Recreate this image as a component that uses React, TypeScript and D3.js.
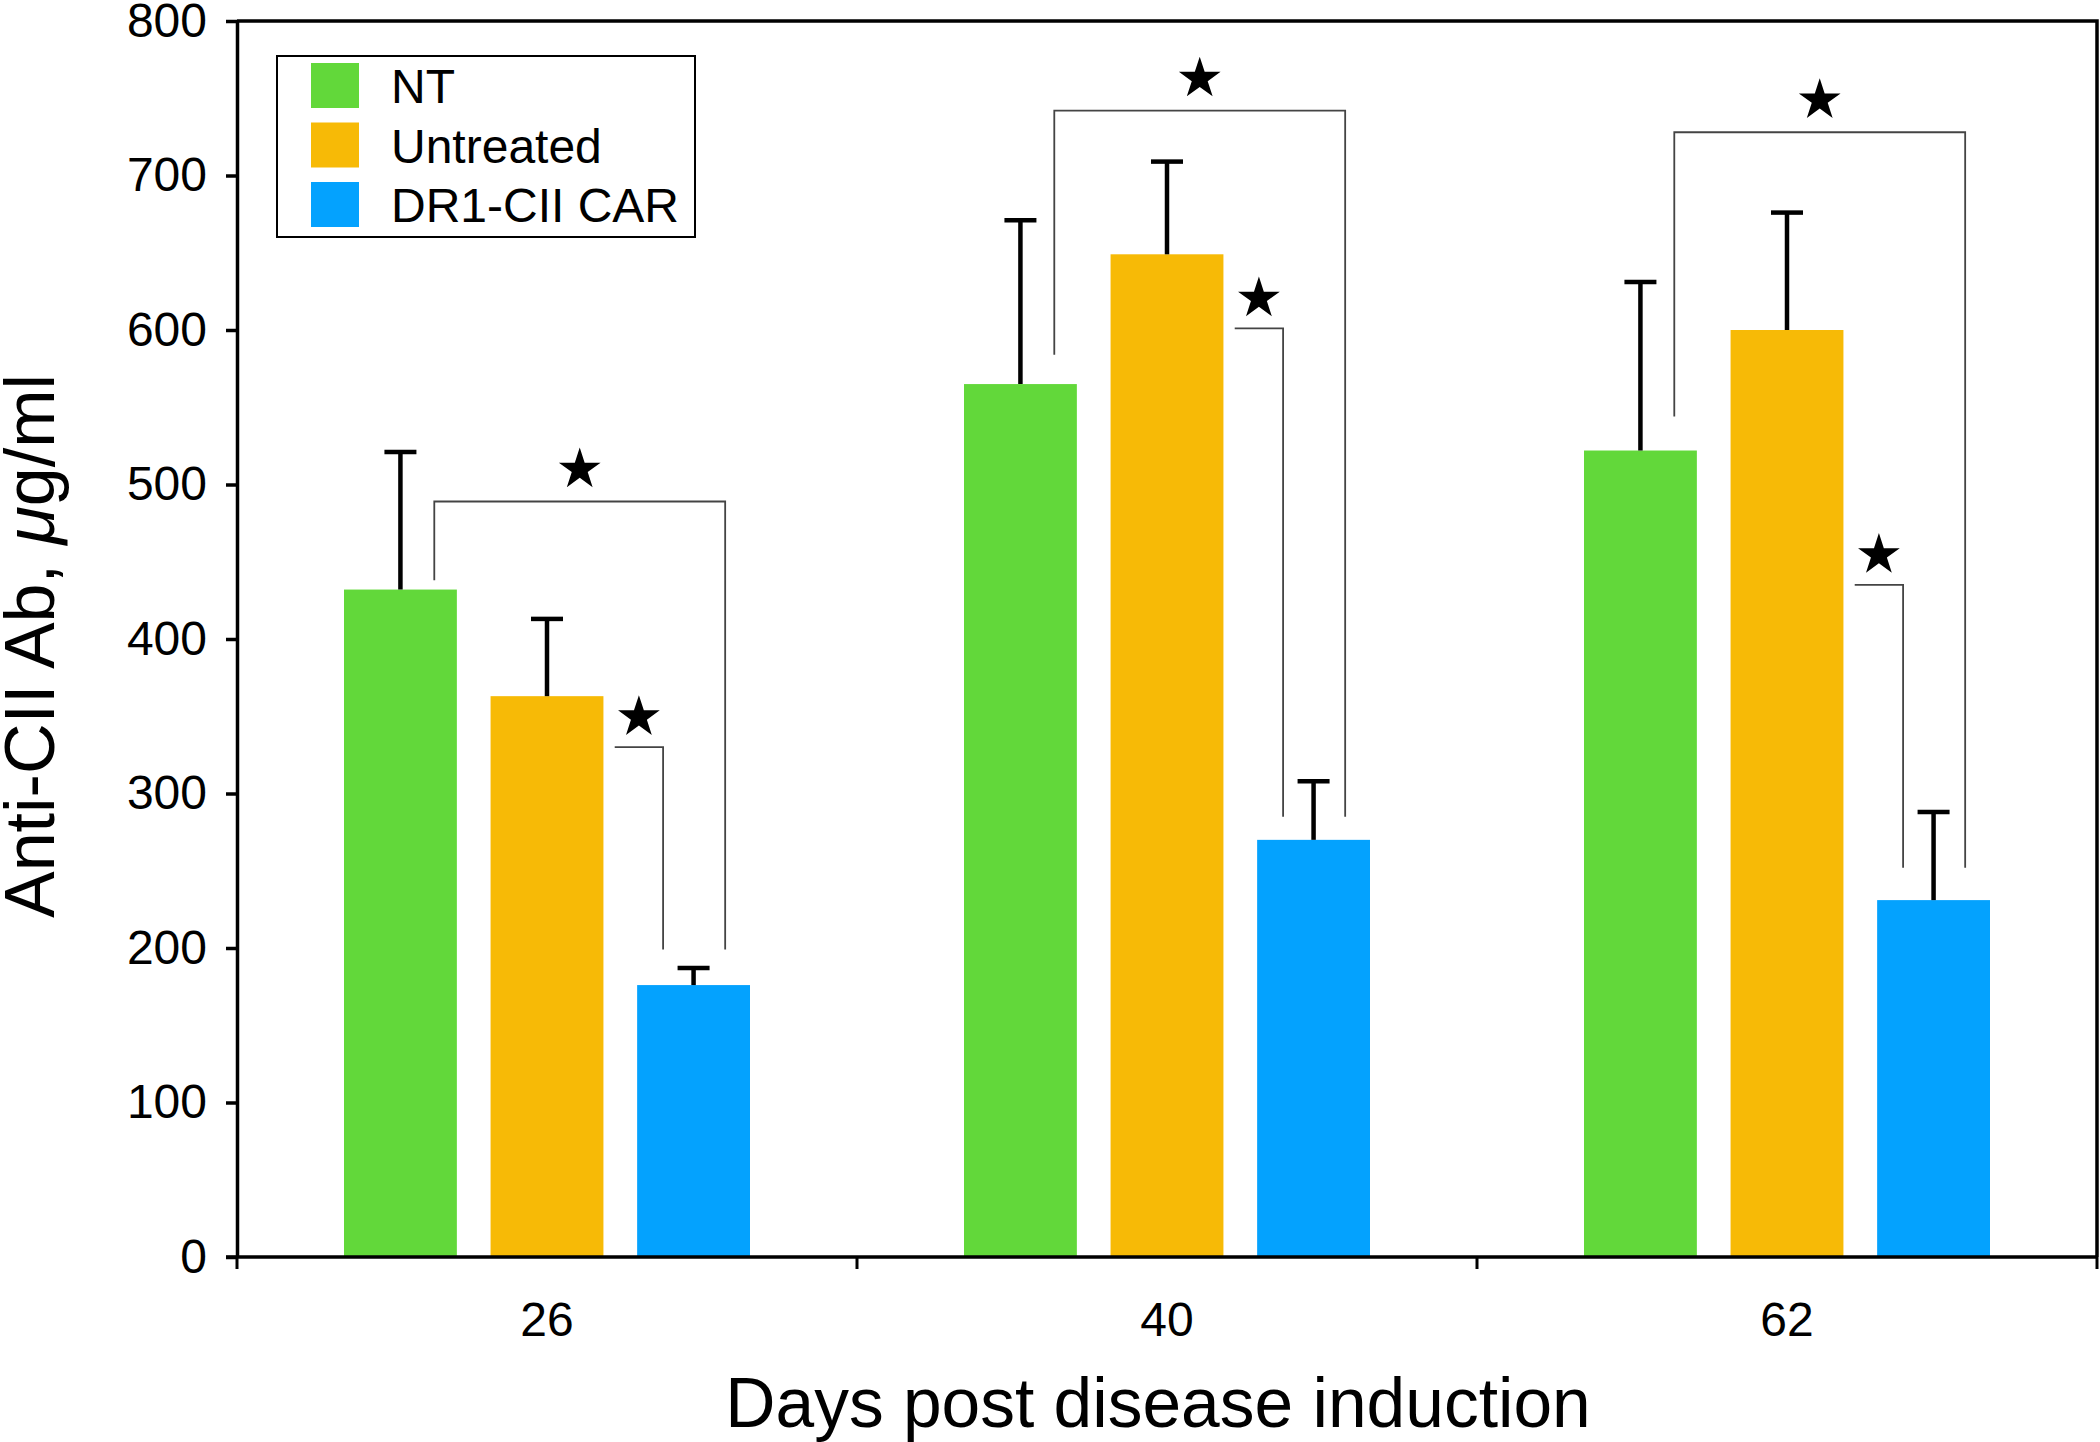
import * as d3 from "d3"
import { useEffect, useRef } from "react"

const days = ["26", "40", "62"]
const groups = ["NT", "Untreated", "DR1-CII CAR"]
const groupColors = ["#62d83a", "#f7ba06", "#04a2fe"]

const ntMeans = [432, 565, 522]
const ntErrors = [89, 106, 109]
const untreatedMeans = [363, 649, 600]
const untreatedErrors = [50, 60, 76]
const carMeans = [176, 270, 231]
const carErrors = [11, 38, 57]

const yTicks = [0, 100, 200, 300, 400, 500, 600, 700, 800]

// significance brackets, heights in ug/ml
const ntVsCarTop = [489, 742, 728]
const ntVsCarLeftEnd = [438, 584, 544]
const untVsCarTop = [330, 601, 435]
const bracketBottom = [199, 285, 252]

export default function App() {
    const svgRef = useRef<SVGSVGElement>(null)

    useEffect(() => {
        const width = 2100
        const height = 1442
        const left = 237
        const right = 2097
        const top = 21
        const bottom = 1257
        const font = "'Liberation Sans', Arial, Helvetica, sans-serif"

        const means = [ntMeans, untreatedMeans, carMeans]
        const errors = [ntErrors, untreatedErrors, carErrors]
        const rows = days.flatMap((day, i) => groups.map((g, j) => ({
            day, group: g, color: groupColors[j], mean: means[j][i], err: errors[j][i]
        })))

        const x0 = d3.scaleBand(days, [left, right])
        const bw0 = x0.bandwidth()
        const x1 = d3.scaleBand(groups, [bw0 / 2 - 203, bw0 / 2 + 203]).paddingInner(0.23)
        const bw = x1.bandwidth()
        const y = d3.scaleLinear([0, 800], [bottom, top])

        if (svgRef.current !== null) {
            svgRef.current.innerHTML = ""
        }

        const svg = d3.select(svgRef.current)
            .attr("width", width)
            .attr("height", height)
            .attr("viewBox", [0, 0, width, height])
            .style("font-family", font)

        svg.append("rect").attr("width", width).attr("height", height).attr("fill", "white")

        // bars
        svg.append("g")
            .selectAll("rect")
            .data(rows)
            .join("rect")
                .attr("x", d => x0(d.day)! + x1(d.group)!)
                .attr("y", d => y(d.mean))
                .attr("width", bw)
                .attr("height", d => y(0) - y(d.mean))
                .attr("fill", d => d.color)

        // error bars
        const eb = svg.append("g").attr("stroke", "black").attr("stroke-width", 4.5)
        rows.forEach(d => {
            const cx = x0(d.day)! + x1(d.group)! + bw / 2
            eb.append("line").attr("x1", cx).attr("x2", cx)
                .attr("y1", y(d.mean)).attr("y2", y(d.mean + d.err))
            eb.append("line").attr("x1", cx - 16).attr("x2", cx + 16)
                .attr("y1", y(d.mean + d.err)).attr("y2", y(d.mean + d.err))
        })

        // brackets
        const br = svg.append("g").attr("fill", "none").attr("stroke", "#444").attr("stroke-width", 1.8)
        const star = d3.symbol(d3.symbolStar, 540)
        days.forEach((day, i) => {
            const gx = x0(day)!
            const ntC = gx + x1("NT")! + bw / 2
            const untR = gx + x1("Untreated")! + bw
            const carC = gx + x1("DR1-CII CAR")! + bw / 2

            const a = ntC + 0.3 * bw
            const b = carC + 0.28 * bw
            br.append("path").attr("d", d3.line()([
                [a, y(ntVsCarLeftEnd[i])], [a, y(ntVsCarTop[i])], [b, y(ntVsCarTop[i])], [b, y(bracketBottom[i])]
            ]))
            svg.append("path").attr("d", star()).attr("fill", "black")
                .attr("transform", `translate(${(a + b) / 2}, ${y(ntVsCarTop[i]) - 32})`)

            const c = untR + 0.1 * bw
            const e = carC - 0.27 * bw
            br.append("path").attr("d", d3.line()([
                [c, y(untVsCarTop[i])], [e, y(untVsCarTop[i])], [e, y(bracketBottom[i])]
            ]))
            svg.append("path").attr("d", star()).attr("fill", "black")
                .attr("transform", `translate(${(c + e) / 2}, ${y(untVsCarTop[i]) - 30})`)
        })

        // frame: top and right
        svg.append("path")
            .attr("d", `M${left},${top}H${right}V${bottom}`)
            .attr("fill", "none").attr("stroke", "black").attr("stroke-width", 3.5)

        // y axis
        svg.append("g")
            .attr("transform", `translate(${left}, 0)`)
            .call(d3.axisLeft(y).tickValues(yTicks).tickSize(11).tickPadding(19).tickSizeOuter(0))
            .call(g => g.select(".domain").attr("stroke-width", 3.5))
            .call(g => g.selectAll(".tick line").attr("stroke-width", 3.5))
            .call(g => g.selectAll(".tick text").attr("font-size", 48).attr("font-family", font).attr("fill", "black"))

        // x axis: ticks on band boundaries, labels at centers
        const xb = svg.append("g").attr("transform", `translate(0, ${bottom})`)
        xb.append("line").attr("x1", left - 11).attr("x2", right).attr("stroke", "black").attr("stroke-width", 3.5)
        const bounds = [...days.map(d => x0(d)!), right]
        xb.selectAll(".b").data(bounds).join("line")
            .attr("x1", d => d).attr("x2", d => d).attr("y1", 0).attr("y2", 12)
            .attr("stroke", "black").attr("stroke-width", 3)
        xb.selectAll("text").data(days).join("text")
            .attr("x", d => x0(d)! + bw0 / 2)
            .attr("y", 79)
            .attr("text-anchor", "middle")
            .attr("font-size", 48)
            .text(d => d)

        // axis titles
        svg.append("text")
            .attr("x", 1158).attr("y", 1427)
            .attr("text-anchor", "middle").attr("font-size", 69.5)
            .text("Days post disease induction")

        const yt = svg.append("text")
            .attr("transform", "translate(54, 646) rotate(-90)")
            .attr("text-anchor", "middle").attr("font-size", 70)
        yt.append("tspan").text("Anti-CII Ab, ")
        yt.append("tspan").attr("font-style", "italic").text("μ")
        yt.append("tspan").text("g/ml")

        // legend
        const lg = svg.append("g")
        lg.append("rect").attr("x", 277).attr("y", 56).attr("width", 418).attr("height", 181)
            .attr("fill", "white").attr("stroke", "black").attr("stroke-width", 2)
        groups.forEach((g, j) => {
            const ly = 63 + j * 59.5
            lg.append("rect").attr("x", 311).attr("y", ly).attr("width", 48).attr("height", 45)
                .attr("fill", groupColors[j])
            lg.append("text").attr("x", 391).attr("y", ly + 40).attr("font-size", 48).text(g)
        })
    }, [])

    return <svg ref={svgRef} style={{ position: "absolute", left: 0, top: 0 }}></svg>
}
